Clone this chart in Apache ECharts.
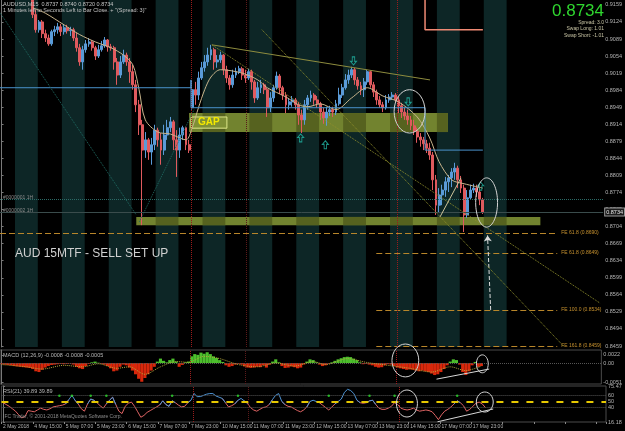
<!DOCTYPE html>
<html>
<head>
<meta charset="utf-8">
<script src="https://cdn.jsdelivr.net/npm/echarts@6/dist/echarts.min.js"></script>
<style>
  html, body { margin: 0; padding: 0; background: #000; }
  #chart { width: 625px; height: 431px; }
</style>
</head>
<body>
<div id="chart"></div>
<script>
const N = 193;          // slots across the plot, incl. the empty shift on the right
const FIRST = 10;       // first candle that is inside the price window

const timeLabels = ['2 May 2018', '4 May 15:00', '5 May 07:00', '5 May 23:00', '6 May 15:00',
  '7 May 07:00', '7 May 23:00', '10 May 15:00', '11 May 07:00', '11 May 23:00', '12 May 15:00',
  '13 May 07:00', '13 May 23:00', '14 May 15:00', '17 May 07:00', '17 May 23:00'];

const priceTicks = [0.8459, 0.8494, 0.8529, 0.8564, 0.8599, 0.8634, 0.8669, 0.8704, 0.8739,
  0.8774, 0.8809, 0.8844, 0.8879, 0.8914, 0.8949, 0.8984, 0.9019, 0.9054, 0.9089, 0.9124, 0.9159];

// [open, close, low, high]
const ohlc = [
  [0.9175,0.9139,0.9132,0.9182],[0.9139,0.9108,0.9102,0.9149],[0.9108,0.9124,0.9102,0.9128],
  [0.9124,0.9100,0.9091,0.9128],[0.9100,0.9091,0.9083,0.9108],[0.9091,0.9079,0.9075,0.9098],
  [0.9079,0.9104,0.9075,0.9108],[0.9104,0.9108,0.9095,0.9116],[0.9108,0.9114,0.9100,0.9122],
  [0.9114,0.9104,0.9095,0.9120],[0.9104,0.9112,0.9098,0.9118],[0.9112,0.9106,0.9100,0.9118],
  [0.9106,0.9108,0.9095,0.9114],[0.9108,0.9091,0.9085,0.9112],[0.9091,0.9071,0.9063,0.9102],
  [0.9071,0.9042,0.9034,0.9079],[0.9042,0.9067,0.9026,0.9075],[0.9067,0.9079,0.9061,0.9087],
  [0.9079,0.9083,0.9073,0.9091],[0.9083,0.9071,0.9065,0.9087],[0.9071,0.9054,0.9046,0.9075],
  [0.9054,0.9067,0.9050,0.9077],[0.9067,0.9075,0.9063,0.9085],[0.9075,0.9087,0.9071,0.9093],
  [0.9087,0.9073,0.9063,0.9089],[0.9073,0.9071,0.9065,0.9079],[0.9071,0.9042,0.9026,0.9075],
  [0.9042,0.9015,0.8995,0.9050],[0.9015,0.9042,0.9009,0.9054],[0.9042,0.9056,0.9038,0.9067],
  [0.9056,0.9042,0.9034,0.9061],[0.9042,0.9022,0.8999,0.9050],[0.9022,0.8995,0.8985,0.9036],
  [0.8995,0.8954,0.8939,0.9005],[0.8954,0.8913,0.8892,0.8964],[0.8913,0.8861,0.8707,0.8923],
  [0.8861,0.8882,0.8845,0.8898],[0.8882,0.8857,0.8841,0.8886],[0.8857,0.8872,0.8831,0.8886],
  [0.8872,0.8902,0.8861,0.8913],[0.8902,0.8882,0.8868,0.8907],[0.8882,0.8861,0.8831,0.8896],
  [0.8861,0.8892,0.8851,0.8913],[0.8892,0.8907,0.8882,0.8923],[0.8907,0.8919,0.8898,0.8929],
  [0.8919,0.8882,0.8861,0.8923],[0.8882,0.8861,0.8806,0.8902],[0.8861,0.8892,0.8845,0.8907],
  [0.8892,0.8907,0.8882,0.8911],[0.8907,0.8872,0.8861,0.8909],[0.8872,0.8861,0.8855,0.8882],
  [0.8948,0.8985,0.8944,0.9005],[0.8985,0.8974,0.8954,0.9001],[0.8974,0.9009,0.8964,0.9022],
  [0.9009,0.9030,0.9005,0.9042],[0.9030,0.9042,0.9022,0.9056],[0.9042,0.9056,0.9034,0.9071],
  [0.9056,0.9067,0.9046,0.9077],[0.9067,0.9042,0.9026,0.9071],[0.9042,0.9046,0.9030,0.9056],
  [0.9046,0.9056,0.9040,0.9063],[0.9056,0.9026,0.9015,0.9058],[0.9026,0.9009,0.8999,0.9034],
  [0.9009,0.8995,0.8985,0.9015],[0.8995,0.9015,0.8989,0.9026],[0.9015,0.9022,0.9009,0.9030],
  [0.9022,0.9028,0.9017,0.9034],[0.9028,0.9015,0.9005,0.9032],[0.9015,0.9009,0.8999,0.9026],
  [0.9009,0.9022,0.9005,0.9028],[0.9022,0.9001,0.8985,0.9026],[0.9001,0.8968,0.8958,0.9005],
  [0.8968,0.8989,0.8964,0.9001],[0.8989,0.8995,0.8978,0.9005],[0.8995,0.8985,0.8976,0.8999],
  [0.8985,0.8948,0.8929,0.8989],[0.8948,0.8968,0.8939,0.8980],[0.8968,0.8989,0.8960,0.8995],
  [0.8989,0.9013,0.8985,0.9022],[0.9013,0.8989,0.8976,0.9017],[0.8989,0.8974,0.8964,0.8993],
  [0.8974,0.8954,0.8937,0.8980],[0.8954,0.8960,0.8944,0.8968],[0.8960,0.8964,0.8950,0.8972],
  [0.8964,0.8954,0.8944,0.8968],[0.8954,0.8933,0.8913,0.8960],[0.8933,0.8923,0.8896,0.8944],
  [0.8923,0.8954,0.8913,0.8964],[0.8954,0.8968,0.8944,0.8974],[0.8968,0.8974,0.8960,0.8983],
  [0.8974,0.8964,0.8954,0.8978],[0.8964,0.8956,0.8948,0.8972],[0.8956,0.8939,0.8923,0.8960],
  [0.8939,0.8927,0.8915,0.8948],[0.8927,0.8939,0.8911,0.8950],[0.8939,0.8944,0.8931,0.8952],
  [0.8944,0.8939,0.8929,0.8950],[0.8939,0.8956,0.8933,0.8964],[0.8956,0.8974,0.8952,0.8989],
  [0.8974,0.8989,0.8968,0.8997],[0.8989,0.9005,0.8985,0.9017],[0.9005,0.9015,0.8997,0.9026],
  [0.9015,0.9026,0.9009,0.9032],[0.9026,0.9005,0.8995,0.9030],[0.9005,0.8993,0.8985,0.9011],
  [0.8993,0.8985,0.8974,0.9001],[0.8985,0.9001,0.8970,0.9009],[0.9001,0.9022,0.8995,0.9026],
  [0.9022,0.8995,0.8989,0.9024],[0.8995,0.8980,0.8970,0.9001],[0.8980,0.8964,0.8954,0.8985],
  [0.8964,0.8954,0.8948,0.8972],[0.8954,0.8948,0.8939,0.8960],[0.8948,0.8964,0.8944,0.8974],
  [0.8964,0.8970,0.8958,0.8976],[0.8970,0.8974,0.8964,0.8980],[0.8974,0.8964,0.8958,0.8978],
  [0.8964,0.8952,0.8937,0.8970],[0.8952,0.8939,0.8927,0.8958],[0.8939,0.8931,0.8923,0.8948],
  [0.8931,0.8923,0.8913,0.8944],[0.8923,0.8911,0.8902,0.8931],[0.8911,0.8900,0.8892,0.8923],
  [0.8900,0.8888,0.8876,0.8907],[0.8888,0.8882,0.8868,0.8896],[0.8882,0.8874,0.8861,0.8888],
  [0.8874,0.8865,0.8855,0.8882],[0.8865,0.8851,0.8841,0.8876],[0.8851,0.8800,0.8779,0.8857],
  [0.8800,0.8748,0.8728,0.8810],[0.8748,0.8769,0.8734,0.8783],[0.8769,0.8779,0.8748,0.8790],
  [0.8779,0.8796,0.8765,0.8806],[0.8796,0.8804,0.8775,0.8810],[0.8804,0.8816,0.8785,0.8824],
  [0.8816,0.8824,0.8800,0.8835],[0.8824,0.8800,0.8783,0.8829],[0.8800,0.8783,0.8773,0.8808],
  [0.8783,0.8728,0.8693,0.8790],[0.8728,0.8763,0.8722,0.8779],[0.8763,0.8779,0.8759,0.8790],
  [0.8779,0.8783,0.8773,0.8792],[0.8783,0.8775,0.8765,0.8790],[0.8775,0.8759,0.8748,0.8783],
  [0.8759,0.8734,0.8730,0.8763]
];

// moving average, read at a few slots
const maPoints = [[10,0.9153],[14,0.9142],[20,0.9118],[25,0.9098],[30,0.9083],[35,0.9071],
  [39,0.9056],[42,0.9036],[44,0.8985],[46,0.8923],[50,0.8898],[54,0.8894],[59,0.8882],
  [61,0.8907],[63,0.8948],[65,0.8985],[67,0.9011],[70,0.9026],[77,0.9019],[82,0.9005],
  [85,0.8989],[91,0.8970],[95,0.8954],[98,0.8950],[102,0.8956],[107,0.8944],[112,0.8968],
  [117,0.8989],[122,0.8972],[127,0.8960],[133,0.8929],[137,0.8886],[140,0.8837],
  [144,0.8800],[148,0.8792],[154,0.8783]];

const macdHist = [
  -0.0003,-0.0004,-0.0005,-0.0006,-0.0008,-0.0009,-0.0010,-0.0011,-0.0012,-0.0013,
  -0.0016,-0.0022,-0.0024,-0.0018,-0.0012,-0.0008,-0.0005,-0.0004,-0.0003,-0.0002,
  -0.0003,-0.0002,-0.0001,-0.0004,-0.0010,-0.0014,-0.0016,-0.0008,-0.0002,0.0002,
  0.0004,0.0001,-0.0002,-0.0004,-0.0008,-0.0014,-0.0022,-0.0020,-0.0010,-0.0004,
  -0.0006,-0.0012,-0.0020,-0.0030,-0.0042,-0.0050,-0.0040,-0.0030,-0.0020,-0.0010,
  0.0004,0.0012,0.0006,0.0002,0.0008,0.0012,0.0004,-0.0010,-0.0005,0.0002,
  0.0004,0.0018,0.0024,0.0022,0.0028,0.0025,0.0029,0.0024,0.0018,0.0014,
  0.0008,0.0003,-0.0006,-0.0010,-0.0008,-0.0004,-0.0002,-0.0004,-0.0009,-0.0012,
  -0.0013,-0.0012,-0.0010,-0.0011,-0.0006,-0.0012,-0.0004,0.0004,0.0010,0.0002,
  -0.0008,-0.0013,-0.0012,-0.0009,-0.0011,-0.0014,-0.0012,-0.0004,0.0004,0.0010,
  0.0008,0.0002,-0.0004,-0.0008,-0.0006,-0.0002,0.0002,0.0006,0.0010,0.0013,
  0.0016,0.0017,0.0016,0.0012,0.0008,0.0002,-0.0003,-0.0002,-0.0004,-0.0006,
  -0.0010,-0.0012,-0.0011,-0.0006,-0.0003,-0.0004,-0.0008,-0.0012,-0.0014,-0.0016,
  -0.0018,-0.0017,-0.0018,-0.0020,-0.0022,-0.0020,-0.0022,-0.0024,-0.0028,-0.0032,
  -0.0030,-0.0024,-0.0016,-0.0006,0.0004,0.0010,0.0008,-0.0004,-0.0024,-0.0032,
  -0.0022,-0.0006,0.0003,-0.0010,-0.0008
];
const macdSignal = [[0,-0.0004],[8,-0.0010],[13,-0.0016],[20,-0.0006],[26,-0.0010],[31,-0.0002],
  [37,-0.0014],[41,-0.0010],[46,-0.0030],[51,-0.0010],[56,0.0004],[60,0.0002],[65,0.0018],
  [70,0.0012],[76,-0.0004],[82,-0.0010],[88,0],[94,-0.0008],[100,0.0004],[104,-0.0004],
  [111,0.0012],[117,0.0002],[124,-0.0006],[131,-0.0014],[138,-0.0024],[144,-0.0010],
  [149,-0.0020],[154,-0.0008]];

const rsi = [
  48,45,42,38,34,28,23,25,35,34, 33,36,39,37,36,38,41,42,43,44,
  46,53,60,52,46,38,34,46,54,52, 48,43,39,46,52,57,45,34,30,42,
  47,49,42,33,24,27,32,35,38,41, 44,51,45,42,51,48,44,41,42,48,
  52,63,58,58,60,62,63,63,59,57, 55,48,41,43,46,52,55,51,47,40,
  36,34,37,40,41,45,53,60,63,50, 45,42,41,38,35,33,36,41,50,52,
  50,48,44,40,36,41,46,50,54,65, 70,68,63,52,48,47,48,51,52,45,
  39,37,37,39,42,48,45,39,37,36, 37,39,36,34,35,36,35,33,27,20,
  28,34,37,41,46,51,48,43,34,37, 42,47,49,46,39.89
];
const rsiSignalSlots = [18, 22, 28, 33, 54, 75, 104, 117, 125, 145];

// ---- drawn objects, in slot / price units ----
const sessionStarts = [4.3, 19.3, 34.3, 49.3, 64.3, 79.3, 94.3, 109.3, 124.3, 139.3, 154.3];
const sessionLen = 7.3;
const gapZone = [60.0, 142.8, 0.8937, 0.8898];
const baseZone = [43.1, 172.4, 0.8724, 0.8707];
const gapBox = [60.6, 72.1, 0.8929, 0.8906];
const supportSteps = [[-0.5,0.8989],[60.6,0.8989],[60.6,0.9005],[60.6,0.8948],[135.5,0.8948],[135.5,0.8861],[154,0.8861]];
const trendTop = [[67.3,0.9077],[137.1,0.9005]];
const channelA = [[67.3,0.9077],[191.5,0.8547]];
const channelB = [[83.3,0.9108],[180.1,0.8457]];
const tealC = [[-0.5,0.9143],[43.1,0.8728]];
const tealD = [[44.1,0.8714],[61.6,0.8944]];
const triangle = [[140.3,0.8724],[147,0.8804]];
const orangeBox = [[135.5,0.9180],[135.5,0.9108],[154,0.9108]];
const feNames = ['FE 61.8 (0.8690)', 'FE 61.8 (0.8649)', 'FE 100.0 (0.8534)', 'FE 161.8 (0.8459)'];
const fePrices = [0.8691, 0.8650, 0.8533, 0.8459];
const feStart = [-0.5, 119.9, 119.9, 119.9];
const feEnd = 177.8;
const separators = [60.6, 78.2, 126.6];
const upArrows = [[95.7,0.8886],[103.6,0.8872],[153.3,0.8787]];
const downArrows = [[112.6,0.9044],[130.1,0.8960]];
const macdLine = [[139.6,-0.0043],[156.5,-0.0016]];
const rsiLine = [[138.7,16.5],[156.5,37.6]];
const ellipses = [
  { g: 0, x: [125.6, 135.5], y: [0.8985, 0.8896] },
  { g: 0, x: [151.7, 158.7], y: [0.8804, 0.8703] },
  { g: 1, x: [125.3, 133.9], y: [0.0051, -0.0037] },
  { g: 1, x: [152.4, 156.2], y: [0.0022, -0.0026] },
  { g: 2, x: [125.6, 132.3], y: [68.9, 24.4] },
  { g: 2, x: [151.1, 156.5], y: [65.6, 32.6] }
];

// ---- build ----
const FONT = 'Liberation Sans';
const LABEL = '#b4b4b4';
const categories = Array.from({ length: N }, (_, i) => (i % 10 === 0 && timeLabels[i / 10]) ? timeLabels[i / 10] : '');
const candleData = Array.from({ length: FIRST }, () => ['-', '-', '-', '-']).concat(ohlc);

// RSI split into the part above and the part below 50 (a segment keeps both ends)
const rsiUp = rsi.map((v, i) => (v >= 50 || (rsi[i - 1] >= 50) || (rsi[i + 1] >= 50)) ? v : '-');
const rsiDown = rsi.map((v, i) => (v < 50 || (rsi[i - 1] < 50) || (rsi[i + 1] < 50)) ? v : '-');

const zoneAreas = [];
[gapZone, baseZone].forEach(z => {
  zoneAreas.push([{ coord: [z[0], z[2]], itemStyle: { color: '#72832f' } }, { coord: [z[1], z[3]] }]);
  sessionStarts.forEach(s => {
    const a = Math.max(s, z[0]), b = Math.min(s + sessionLen, z[1]);
    if (b > a) zoneAreas.push([{ coord: [a, z[2]], itemStyle: { color: '#56621f' } }, { coord: [b, z[3]] }]);
  });
});
zoneAreas.push([{
  name: 'GAP', coord: [gapBox[0], gapBox[2]],
  itemStyle: { color: '#7f9036', borderColor: '#dfe88a', borderWidth: 1 },
  label: { show: true, position: 'inside', color: '#f4e800', fontSize: 10, fontWeight: 'bold', fontFamily: FONT }
}, { coord: [gapBox[1], gapBox[3]] }]);

function catAxis(g, labels) {
  return {
    type: 'category', gridIndex: g, data: categories, boundaryGap: true,
    axisLine: { show: false },
    axisTick: { show: labels, interval: i => i % 10 === 0, length: 2, lineStyle: { color: '#888' } },
    axisLabel: { show: labels, interval: i => i % 10 === 0, align: 'left', fontSize: 5, color: LABEL, margin: 2, fontFamily: FONT },
    splitLine: { show: false }
  };
}
function valAxis(g) {
  return { type: 'value', gridIndex: g, min: -0.5, max: N - 0.5, show: false };
}
function yAxisCfg(g, min, max, ticks, fmt) {
  return {
    type: 'value', gridIndex: g, position: 'right', min: min, max: max,
    splitLine: { show: false },
    axisLine: { show: true, lineStyle: { color: '#7a7a7a' } },
    axisTick: { show: true, length: 2, customValues: ticks, lineStyle: { color: '#7a7a7a' } },
    axisLabel: { customValues: ticks, formatter: fmt, fontSize: 5.5, color: LABEL, margin: 2, fontFamily: FONT }
  };
}
function overlay(g, data, color, type, extra) {
  return Object.assign({
    type: 'line', xAxisIndex: 3 + g, yAxisIndex: g, data: data, showSymbol: false,
    silent: true, z: 6, lineStyle: { color: color, width: 1, type: type || 'solid' }
  }, extra || {});
}
function sepLines() {
  return separators.map((x, k) => ({
    xAxis: x, lineStyle: { color: k === 1 ? '#5a1a1a' : '#9a1c1c', type: 'dotted', width: 1 }
  }));
}
const feLines = feNames.map((n, k) => [
  { name: n, coord: [feStart[k], fePrices[k]],
    lineStyle: { color: '#b8862a', type: [6, 3], width: 1 },
    label: { show: true, position: 'end', formatter: '{b}', color: '#c8922e', fontSize: 5, distance: 4, fontFamily: FONT } },
  { coord: [feEnd, fePrices[k]] }
]);

const chart = echarts.init(document.getElementById('chart'));
chart.setOption({
  animation: false,
  backgroundColor: '#000',
  textStyle: { fontFamily: FONT },
  grid: [
    { left: 0, right: 19, top: 0, height: 347 },
    { left: 0, right: 19, top: 350, height: 34, show: true, borderColor: '#4a4a4a', borderWidth: 1 },
    { left: 0, right: 19, top: 386, height: 36, show: true, borderColor: '#4a4a4a', borderWidth: 1 }
  ],
  xAxis: [catAxis(0, false), catAxis(1, false), catAxis(2, true), valAxis(0), valAxis(1), valAxis(2)],
  yAxis: [
    yAxisCfg(0, 0.8457, 0.9169, priceTicks, v => v.toFixed(4)),
    yAxisCfg(1, -0.0056, 0.0035, [0.0022, 0, -0.0051], v => v === 0 ? '0.00' : v.toFixed(4)),
    yAxisCfg(2, 16.18, 75.47, [75.47, 60, 50, 40, 16.18], v => String(v))
  ],
  series: [
    // 0 session stripes
    overlay(0, [], '#000', 'solid', { z: 0, markArea: { z: 0, silent: true, itemStyle: { color: '#0d2626' }, label: { show: false },
      data: sessionStarts.map(s => [{ xAxis: s }, { xAxis: s + sessionLen }]) } }),
    // 1 zones
    overlay(0, [], '#000', 'solid', { z: 1, markArea: { z: 1, silent: true, label: { show: false }, data: zoneAreas } }),
    // 2 candles
    { type: 'candlestick', xAxisIndex: 0, yAxisIndex: 0, data: candleData, barWidth: 2.4, silent: true, z: 5,
      itemStyle: { color: '#5a9bd8', color0: '#e05a5e', borderColor: '#5a9bd8', borderColor0: '#e05a5e', borderWidth: 1 } },
    // 3 moving average
    overlay(0, maPoints, '#c9b58c', 'solid', { smooth: 0.3 }),
    // 4..11 drawn lines
    overlay(0, supportSteps, '#4a92cc'),
    overlay(0, trendTop, '#8e8c3e'),
    overlay(0, channelA, '#8f8f2c', 'dotted'),
    overlay(0, channelB, '#8f8f2c', 'dotted'),
    overlay(0, tealC, '#1f6a62', 'dotted'),
    overlay(0, tealD, '#1f6a62', 'dotted'),
    overlay(0, triangle, '#cfc49a'),
    overlay(0, orangeBox, '#f08a74', 'solid', { lineStyle: { color: '#f08a74', width: 1.5 } }),
    // 12 mark lines on the price panel
    overlay(0, [], '#000', 'solid', { markLine: {
      z: 6, silent: true, symbol: ['none', 'none'], animation: false,
      label: { show: false },
      data: [
        ...feLines,
        [{ coord: [-0.5, 0.8761], lineStyle: { color: '#2b6a66', type: 'dotted', width: 1 } }, { coord: [N - 0.5, 0.8761] }],
        [{ coord: [-0.5, 0.8734], lineStyle: { color: '#3a4c4c', type: 'solid', width: 1 },
           label: { show: true, position: 'end', formatter: '0.8734', distance: 2, color: '#e8e8e8', fontSize: 5.5,
             backgroundColor: '#1c1c1c', borderColor: '#9a9a9a', borderWidth: 1, padding: [1, 1, 0, 1], fontFamily: FONT } },
         { coord: [N - 0.5, 0.8734] }],
        [{ coord: [156.5, 0.8533], symbol: 'none', lineStyle: { color: '#dcdcdc', width: 1, curveness: 0.12 } },
         { coord: [155.5, 0.8686], symbol: 'arrow', symbolSize: 6 }],
        ...sepLines()
      ] } }),
    // 13, 14 arrows
    { type: 'scatter', xAxisIndex: 3, yAxisIndex: 0, data: upArrows, silent: true, z: 7,
      symbol: 'path://M4,0 L8,4 L5.6,4 L5.6,9 L2.4,9 L2.4,4 L0,4 Z', symbolSize: [6, 8],
      itemStyle: { color: 'rgba(0,0,0,0)', borderColor: '#22b8a6', borderWidth: 1 } },
    { type: 'scatter', xAxisIndex: 3, yAxisIndex: 0, data: downArrows, silent: true, z: 7, symbolRotate: 180,
      symbol: 'path://M4,0 L8,4 L5.6,4 L5.6,9 L2.4,9 L2.4,4 L0,4 Z', symbolSize: [6, 8],
      itemStyle: { color: 'rgba(0,0,0,0)', borderColor: '#22b8a6', borderWidth: 1 } },
    // 15 MACD histogram
    { type: 'bar', xAxisIndex: 1, yAxisIndex: 1, data: macdHist, barWidth: '100%', barCategoryGap: 0, silent: true,
      itemStyle: { color: p => p.value >= 0 ? '#4cbf2c' : '#d8280c' } },
    // 16 MACD signal
    overlay(1, macdSignal, '#b4a83c', 'dotted', { smooth: 0.3 }),
    // 17 MACD drawn line + levels
    overlay(1, macdLine, '#d8d8d8', 'solid', { markLine: { silent: true, symbol: ['none', 'none'], label: { show: false },
      data: [{ yAxis: 0, lineStyle: { color: '#555', type: 'dotted', width: 1 } }, ...sepLines()] } }),
    // 18, 19 RSI (blue above 50, red below)
    { type: 'line', xAxisIndex: 2, yAxisIndex: 2, data: rsiDown, showSymbol: false, silent: true, z: 4,
      lineStyle: { width: 1, color: '#e06464' } },
    { type: 'line', xAxisIndex: 2, yAxisIndex: 2, data: rsiUp, showSymbol: false, silent: true, z: 4,
      lineStyle: { width: 1, color: '#4f95d6' } },
    // 20 RSI signal dots
    { type: 'scatter', xAxisIndex: 2, yAxisIndex: 2, data: rsiSignalSlots.map(i => [i, 59.5]), symbolSize: 2.5,
      silent: true, z: 5, itemStyle: { color: '#2ee02e' } },
    // 21 RSI drawn line + levels
    overlay(2, rsiLine, '#d8d8d8', 'solid', { markLine: { silent: true, symbol: ['none', 'none'], label: { show: false },
      data: [
        { yAxis: 60, lineStyle: { color: '#555', type: 'dotted', width: 1 } },
        { yAxis: 40, lineStyle: { color: '#555', type: 'dotted', width: 1 } },
        { yAxis: 50, lineStyle: { color: '#e6c800', type: [7, 8], width: 2 } },
        ...sepLines()
      ] } })
  ]
});

// texts and ellipses, placed through the axes
function txt(x, y, text, size, fill, align) {
  return { type: 'text', x: x, y: y, z: 100, silent: true,
    style: { text: text, fontSize: size, fontFamily: FONT, fill: fill, align: align || 'left', verticalAlign: 'top' } };
}
const graphics = [
  txt(3, 1, 'AUDUSD,M15  0.8737 0.8740 0.8720 0.8734', 5.5, '#c4c4c4'),
  txt(3, 7.5, '1 Minutes left to Seconds Left to Bar Close. + "(Spread: 3)"', 5.5, '#c4c4c4'),
  txt(604, 3, '0.8734', 17, '#2fd62f', 'right'),
  txt(604, 20, 'Spread: 3.0', 5, '#c8c4a4', 'right'),
  txt(604, 26.5, 'Swap Long: 1.01', 5, '#c8c4a4', 'right'),
  txt(604, 33, 'Swap Short: -1.01', 5, '#c8c4a4', 'right'),
  txt(15, 248, 'AUD 15MTF - SELL SET UP', 12, '#d0d0d0'),
  txt(3, 195, '#0000001 1H', 5, '#8a8a8a'),
  txt(3, 208, '#0000002 1H', 5, '#8a8a8a'),
  txt(3, 352, 'MACD (12,26,9) -0.0008 -0.0008 -0.0005', 5.5, '#b8b8b8'),
  txt(3, 388, 'RSI(21) 39.89 39.89', 5.5, '#b8b8b8'),
  txt(3, 414, 'IFC Trader, \u00a9 2001-2018 MetaQuotes Software Corp.', 5, '#8c8c8c')
];
ellipses.forEach(e => {
  try {
    const f = { xAxisIndex: 3 + e.g, yAxisIndex: e.g };
    const a = chart.convertToPixel(f, [e.x[0], e.y[0]]), b = chart.convertToPixel(f, [e.x[1], e.y[1]]);
    graphics.push({ type: 'ellipse', z: 100, silent: true,
      shape: { cx: (a[0] + b[0]) / 2, cy: (a[1] + b[1]) / 2, rx: Math.abs(b[0] - a[0]) / 2, ry: Math.abs(b[1] - a[1]) / 2 },
      style: { fill: 'none', stroke: '#d4d4d4', lineWidth: 1 } });
  } catch (err) { /* leave the ellipse out */ }
});
chart.setOption({ graphic: graphics });
</script>
</body>
</html>
